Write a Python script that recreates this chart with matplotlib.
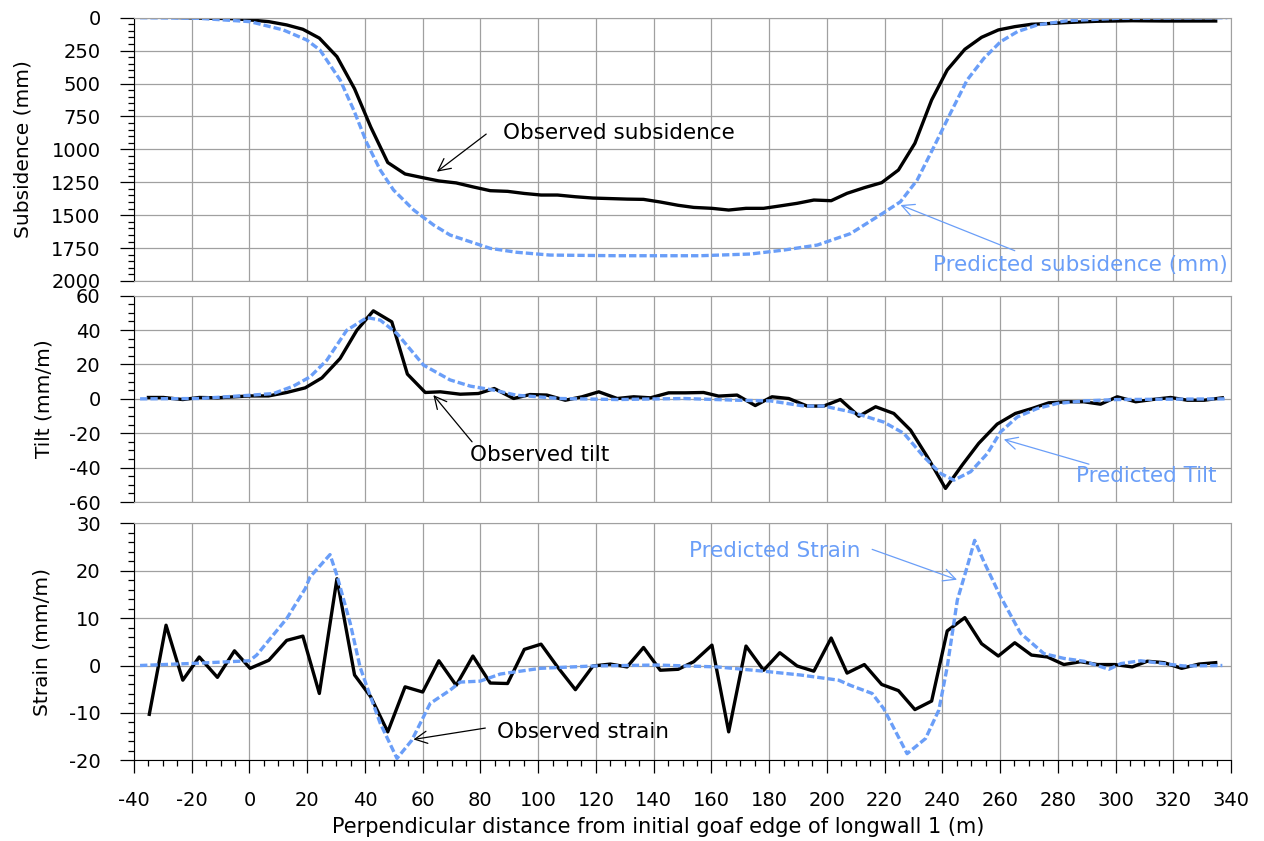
import numpy as np
import matplotlib.pyplot as plt
from matplotlib.ticker import MultipleLocator

plt.rcParams['axes.unicode_minus'] = False

# observed subsidence (mm)
sub_x = [-34.7, -28.9, -23.1, -17.4, -11.1, -5.2, 0.2, 6.7, 12.9, 18.5, 24.2, 30.3, 36.4, 42.0,
         47.9, 53.9, 60.0, 65.6, 71.6, 77.4, 83.4, 89.4, 95.2, 101.0, 106.7, 112.9, 119.0, 125.0,
         130.8, 136.5, 142.3, 148.5, 153.9, 160.2, 166.0, 172.0, 178.1, 183.7, 189.7, 195.5, 201.5,
         207.0, 213.0, 219.0, 224.8, 230.5, 236.3, 241.7, 247.8, 253.6, 259.4, 265.1, 270.9, 276.4,
         282.1, 287.9, 293.7, 299.8, 305.8, 311.0, 316.8, 322.9, 328.9, 334.7]
sub_obs = [-10, -5, 0, 3, 5, 8, 17, 30, 55, 88, 155, 296, 540, 830,
           1100, 1187, 1215, 1240, 1255, 1285, 1314, 1319, 1335, 1347, 1347, 1360, 1370, 1374,
           1378, 1380, 1400, 1425, 1441, 1448, 1461, 1448, 1448, 1430, 1410, 1385, 1390,
           1334, 1291, 1253, 1157, 954, 625, 397, 240, 149, 93, 68, 50, 45,
           38, 32, 27, 25, 23, 24, 25, 25, 25, 25]

# predicted subsidence (mm)
sub_px = [-37.9, -17.4, 0.2, 11.7, 19.8, 24.4, 31.4, 36.1, 40.7, 45.3, 49.9, 56.9, 63.8, 69.5,
          83.4, 92.6, 104.1, 127.2, 156.2, 173.5, 185.1, 196.7, 208.2, 219.8, 225.5, 231.3,
          237.1, 242.8, 248.6, 254.4, 260.2, 266.0, 272.9, 283.3, 300.6, 338.7]
sub_pred = [0, 5, 30, 93, 169, 245, 473, 701, 954, 1157, 1309, 1461, 1575, 1651,
            1752, 1782, 1803, 1808, 1808, 1795, 1765, 1727, 1640, 1480, 1398, 1233,
            980, 726, 473, 309, 182, 106, 55, 23, 5, 0]

# observed tilt (mm/m)
tilt_x = [-35.0, -29.8, -23.1, -17.4, -11.1, -5.2, 0.2, 6.6, 12.9, 19.3, 25.1, 31.4, 37.2, 42.9,
          49.3, 54.7, 60.9, 66.1, 73.0, 79.3, 84.8, 91.5, 97.2, 103.0, 109.4, 115.2, 121.0, 127.4,
          133.1, 138.9, 145.2, 151.0, 157.3, 162.5, 168.9, 175.2, 181.0, 186.8, 193.2, 198.9,
          204.7, 211.1, 216.9, 223.2, 229.0, 234.8, 241.1, 246.9, 252.6, 259.0, 265.3, 271.1,
          276.9, 283.3, 289.0, 294.8, 300.6, 307.0, 312.7, 319.1, 324.9, 330.7, 337.0]
tilt_obs = [0.8, 0.8, -0.4, 0.8, 0.6, 1.2, 1.7, 1.7, 3.7, 6.4, 12.2, 23.5, 39.9, 51.2,
            44.8, 14.4, 3.7, 4.1, 2.7, 3.1, 6.0, 0.2, 2.5, 2.2, -0.8, 1.2, 4.1, 0.2,
            1.2, 0.6, 3.5, 3.5, 3.7, 1.6, 2.2, -3.9, 1.2, 0.2, -4.2, -4.2,
            -0.4, -10.1, -4.6, -8.5, -18.2, -33.7, -52.1, -38.5, -25.9, -14.7, -8.5, -5.6,
            -2.3, -1.7, -1.7, -3.1, 1.2, -1.7, -0.4, 0.8, -0.8, -0.8, 0.6]

# predicted tilt (mm/m)
tilt_px = [-37.9, -17.4, 0.2, 8.3, 15.2, 21.0, 26.8, 33.7, 40.7, 45.3, 51.1, 60.3, 69.5, 76.5,
           84.5, 92.6, 107.6, 127.4, 150.5, 168.9, 180.5, 192.1, 198.9, 208.2, 219.7, 226.7,
           233.6, 239.4, 244.0, 249.8, 255.6, 260.2, 266.0, 272.9, 279.8, 289.0, 300.6, 338.2]
tilt_pred = [0, 0.2, 2.1, 3.1, 7.4, 12.8, 22.5, 39.9, 47.3, 45.8, 38.0, 19.6, 11.0, 7.4,
             5.1, 2.1, 0.2, -0.4, 0.2, -0.8, -1.2, -4.2, -4.2, -7.5, -13.5, -20.1,
             -33.7, -43.4, -47.3, -42.4, -31.8, -19.2, -10.5, -5.6, -2.7, -1.2, -0.4, 0]

# observed strain (mm/m)
str_x = sub_x
str_obs = [-10.3, 8.5, -3.1, 1.8, -2.5, 3.1, -0.6, 1.1, 5.3, 6.2, -5.9, 18.3, -2.0, -6.6,
           -14.0, -4.5, -5.6, 1.0, -4.2, 2.0, -3.7, -3.8, 3.4, 4.5, -0.3, -5.1, -0.1, 0.3,
           -0.3, 3.8, -1.0, -0.8, 0.8, 4.3, -14.0, 4.1, -1.0, 2.7, -0.1, -1.2, 5.8,
           -1.6, 0.2, -4.0, -5.3, -9.3, -7.5, 7.3, 10.1, 4.6, 2.0, 4.8, 2.2, 1.8,
           0.2, 0.8, 0.2, 0.2, -0.3, 0.9, 0.6, -0.6, 0.3, 0.6]

# predicted strain (mm/m)
str_px = [-37.9, -17.4, 0.0, 2.5, 12.9, 19.3, 21.0, 27.9, 30.3, 34.9, 38.3, 40.7, 45.3, 51.1,
          56.2, 62.6, 69.5, 73.0, 79.9, 86.9, 100.7, 119.2, 141.2, 162.0, 178.1, 190.8, 204.1,
          208.2, 215.7, 219.7, 227.8, 234.2, 238.8, 241.7, 245.2, 248.6, 251.2, 254.4, 260.2,
          267.1, 275.2, 282.1, 289.1, 297.7, 301.8, 308.7, 318.0, 323.7, 337.0]
str_pred = [0, 0.5, 1.0, 2.2, 9.9, 16.2, 18.7, 23.4, 19.0, 8.9, -0.3, -4.5, -12.2, -19.6,
            -15.8, -8.0, -5.2, -3.5, -3.3, -1.8, -0.6, -0.1, 0.1, -0.3, -1.2, -2.0, -3.1,
            -4.2, -5.9, -9.1, -18.6, -15.4, -9.4, -0.3, 13.8, 20.8, 26.4, 21.9, 14.5,
            6.8, 2.5, 1.5, 0.9, -0.8, 0.4, 1.0, 0.3, -0.1, 0]

BLUE = '#6a9ef8'
GRID = '#a0a0a0'
DASH = (0, (2.2, 0.9))

W, H = 1264, 841
fig = plt.figure(figsize=(W / 100, H / 100), dpi=100)


def box(top, bottom):
    return [134 / W, 1 - bottom / H, (1231 - 134) / W, (bottom - top) / H]


def style(ax, major, minor, ylabel, labx):
    ax.set_xlim(-40, 340)
    ax.xaxis.set_major_locator(MultipleLocator(20))
    ax.xaxis.set_minor_locator(MultipleLocator(5))
    ax.yaxis.set_major_locator(MultipleLocator(major))
    ax.yaxis.set_minor_locator(MultipleLocator(minor))
    ax.grid(True, which='major', color=GRID, lw=0.9)
    ax.set_axisbelow(True)
    for s in ['top', 'right', 'bottom']:
        ax.spines[s].set_color(GRID)
    ax.spines['left'].set_color('black')
    ax.tick_params(axis='y', which='major', direction='out', length=10, width=0.9,
                   labelsize=14, pad=14)
    ax.tick_params(axis='y', which='minor', direction='out', length=4.5, width=0.9)
    ax.tick_params(axis='x', which='both', bottom=False, labelbottom=False)
    ax.set_ylabel(ylabel, fontsize=14.5, va='center')
    ax.yaxis.set_label_coords(labx, 0.5)


def ann(ax, text, xy, xytext, tx, color):
    ax.annotate('', xy=xy, xytext=xytext,
                arrowprops=dict(arrowstyle='->', color=color, lw=0.9,
                                mutation_scale=22, shrinkA=0, shrinkB=0))
    ax.text(tx[0], tx[1], text, color=color, fontsize=15.5, va='center', ha='left')


ax1 = fig.add_axes(box(17.7, 281))
ax2 = fig.add_axes(box(295.7, 502))
ax3 = fig.add_axes(box(523.3, 760.3))

# subsidence
ax1.plot(sub_x, sub_obs, color='black', lw=2.4)
ax1.plot(sub_px, sub_pred, color=BLUE, lw=2.4, ls=DASH)
ax1.set_ylim(2000, 0)
style(ax1, 250, 50, 'Subsidence (mm)', -0.1015)
ann(ax1, 'Observed subsidence', (64.9, 1170), (82, 884), (87.8, 876), 'black')
ann(ax1, 'Predicted subsidence (mm)', (225.5, 1423), (265.1, 1770), (236.8, 1878), BLUE)

# tilt
ax2.plot(tilt_x, tilt_obs, color='black', lw=2.4)
ax2.plot(tilt_px, tilt_pred, color=BLUE, lw=2.4, ls=DASH)
ax2.set_ylim(-60, 60)
style(ax2, 20, 5, 'Tilt (mm/m)', -0.0818)
ann(ax2, 'Observed tilt', (63.7, 2.2), (77.1, -25), (76.5, -32.7), 'black')
ann(ax2, 'Predicted Tilt', (261.3, -23.6), (290.8, -38), (286.4, -45), BLUE)

# strain
ax3.plot(str_x, str_obs, color='black', lw=2.4)
ax3.plot(str_px, str_pred, color=BLUE, lw=2.4, ls=DASH)
ax3.set_ylim(-20, 30)
style(ax3, 10, 2, 'Strain (mm/m)', -0.0841)
ax3.spines['bottom'].set_color('black')
ax3.tick_params(axis='x', which='major', bottom=True, labelbottom=True, direction='out',
                length=9, width=0.9, labelsize=14, pad=13)
ax3.tick_params(axis='x', which='minor', bottom=True, direction='out', length=4.5, width=0.9)
ax3.set_xlabel('Perpendicular distance from initial goaf edge of longwall 1 (m)',
               fontsize=15, va='center')
ax3.xaxis.set_label_coords(0.478, -0.28)
ann(ax3, 'Predicted Strain', (245.1, 18.1), (215.7, 24.5), (152.1, 24.2), BLUE)
ann(ax3, 'Observed strain', (56.8, -15.6), (81.7, -13.2), (85.9, -14.1), 'black')

fig.savefig('out.png', dpi=100)
